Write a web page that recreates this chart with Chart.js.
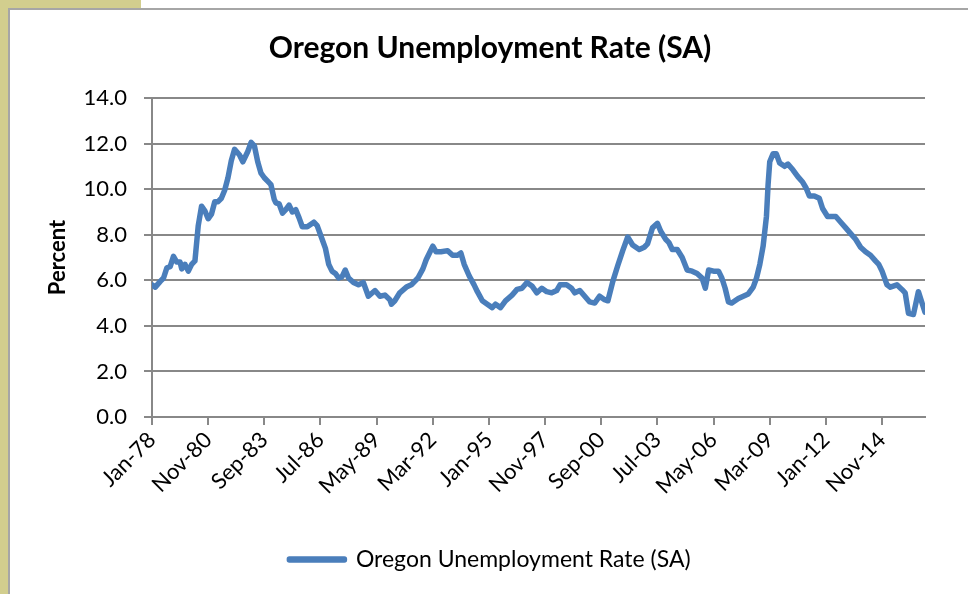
<!DOCTYPE html>
<html>
<head>
<meta charset="utf-8">
<title>Oregon Unemployment Rate (SA)</title>
<script src="https://cdn.jsdelivr.net/npm/chart.js@4.4.1/dist/chart.umd.min.js"></script>
<style>
  html, body { margin: 0; padding: 0; background: #fff; }
  body { width: 968px; height: 594px; position: relative; overflow: hidden; }
  .strip { position: absolute; background: #d2ce8e; }
  #frame { position: absolute; left: 8px; top: 8px; right: 0; bottom: 0;
           border-left: 2px solid #a6a6a6; border-top: 2px solid #a6a6a6; }
  #chartBox { position: absolute; left: 0; top: 0; width: 968px; height: 594px; }
</style>
</head>
<body>
<div class="strip" style="left:0;top:0;width:8px;height:594px"></div>
<div class="strip" style="left:0;top:0;width:141px;height:8px"></div>
<div id="frame"></div>
<div id="chartBox"><canvas id="unemployment"></canvas></div>
<script>
// readings taken off the original chart (month, percent)
const months = [
  '1978-01', '1978-03', '1978-06', '1978-08', '1978-10', '1978-12',
  '1979-02', '1979-04', '1979-06', '1979-07', '1979-09', '1979-11',
  '1980-01', '1980-03', '1980-05', '1980-07', '1980-09', '1980-11',
  '1981-01', '1981-03', '1981-05', '1981-07', '1981-09', '1981-11',
  '1982-01', '1982-03', '1982-06', '1982-08', '1982-11',
  '1983-01', '1983-03', '1983-05', '1983-07', '1983-09', '1983-11',
  '1984-01', '1984-03', '1984-04', '1984-06', '1984-08', '1984-10', '1984-12',
  '1985-02', '1985-04', '1985-06', '1985-08', '1985-11',
  '1986-03', '1986-05', '1986-08', '1986-10', '1986-12',
  '1987-02', '1987-04', '1987-06', '1987-08', '1987-10', '1987-12',
  '1988-03', '1988-06', '1988-09', '1988-12',
  '1989-04', '1989-07', '1989-10',
  '1990-01', '1990-02', '1990-04', '1990-07', '1990-11',
  '1991-02', '1991-06', '1991-09', '1991-11',
  '1992-01', '1992-03', '1992-05', '1992-08', '1992-12',
  '1993-03', '1993-06', '1993-08', '1993-10',
  '1994-01', '1994-04', '1994-06', '1994-09', '1994-12',
  '1995-03', '1995-05', '1995-08', '1995-11',
  '1996-03', '1996-06', '1996-09', '1996-12',
  '1997-03', '1997-06', '1997-09', '1997-12',
  '1998-03', '1998-06', '1998-08', '1998-12',
  '1999-03', '1999-05', '1999-08', '1999-11',
  '2000-02', '2000-05', '2000-08', '2000-11',
  '2001-01', '2001-04', '2001-07', '2001-10',
  '2002-01', '2002-04', '2002-08', '2002-11',
  '2003-01', '2003-04', '2003-07', '2003-09', '2003-12',
  '2004-02', '2004-04', '2004-07', '2004-10',
  '2005-01', '2005-04', '2005-07', '2005-10', '2005-12',
  '2006-02', '2006-05', '2006-08', '2006-10', '2006-12',
  '2007-02', '2007-04', '2007-08', '2007-11',
  '2008-02', '2008-05', '2008-07', '2008-09', '2008-11',
  '2009-01', '2009-02', '2009-03', '2009-05', '2009-07', '2009-09', '2009-12',
  '2010-02', '2010-05', '2010-08', '2010-11',
  '2011-01', '2011-03', '2011-06', '2011-09', '2011-11',
  '2012-02', '2012-07', '2012-10',
  '2013-01', '2013-04', '2013-07', '2013-10',
  '2014-01', '2014-04', '2014-07', '2014-09', '2014-11',
  '2015-02', '2015-04', '2015-08', '2015-11',
  '2016-01', '2016-03', '2016-06', '2016-09',
  '2017-01'
];
const rate = [
  5.8, 5.7, 5.95, 6.1, 6.55, 6.6,
  7.05, 6.8, 6.8, 6.5, 6.7, 6.4,
  6.7, 6.85, 8.4, 9.25, 9.05, 8.7,
  8.9, 9.45, 9.45, 9.6, 9.95, 10.5,
  11.25, 11.75, 11.5, 11.2, 11.65,
  12.05, 11.9, 11.2, 10.7, 10.5, 10.35,
  10.2, 9.55, 9.4, 9.35, 8.95, 9.1, 9.3,
  9.0, 9.1, 8.75, 8.35, 8.35,
  8.55, 8.4, 7.8, 7.4, 6.7,
  6.4, 6.3, 6.1, 6.15, 6.45, 6.1,
  5.9, 5.8, 5.9, 5.3,
  5.55, 5.3, 5.35,
  5.15, 4.95, 5.1, 5.45, 5.7,
  5.8, 6.1, 6.5, 6.9,
  7.2, 7.5, 7.25, 7.25, 7.3,
  7.1, 7.1, 7.2, 6.7,
  6.2, 5.8, 5.5, 5.1, 4.95,
  4.8, 4.95, 4.8, 5.1,
  5.35, 5.6, 5.65, 5.9,
  5.75, 5.45, 5.65, 5.5,
  5.45, 5.55, 5.8, 5.8,
  5.65, 5.45, 5.55, 5.3,
  5.05, 5.0, 5.3, 5.15,
  5.1, 5.95, 6.65, 7.3,
  7.9, 7.55, 7.35, 7.45,
  7.6, 8.3, 8.5, 8.15, 7.8,
  7.65, 7.35, 7.35, 7.0,
  6.45, 6.4, 6.3, 6.1, 5.65,
  6.45, 6.4, 6.4, 6.1, 5.65,
  5.05, 5.0, 5.2, 5.3,
  5.4, 5.7, 6.1, 6.7, 7.5,
  8.8, 10.2, 11.2, 11.55, 11.55, 11.15, 11.0,
  11.1, 10.85, 10.55, 10.3,
  10.05, 9.7, 9.7, 9.6, 9.15,
  8.8, 8.8, 8.55,
  8.3, 8.05, 7.8, 7.45,
  7.25, 7.1, 6.85, 6.7, 6.4,
  5.8, 5.7, 5.8, 5.6,
  5.45, 4.55, 4.5, 5.5,
  4.6
];
const tickLabels = ['Jan-78', 'Nov-80', 'Sep-83', 'Jul-86', 'May-89', 'Mar-92', 'Jan-95',
                    'Nov-97', 'Sep-00', 'Jul-03', 'May-06', 'Mar-09', 'Jan-12', 'Nov-14'];
const yTicks = [0, 2, 4, 6, 8, 10, 12, 14];

const TICK_STEP = 34;   // months between category labels
const LAST_MONTH = 468; // Jan-17, counted from Jan-78

const FONT = 'Lato, "Open Sans", sans-serif';
const GRID = '#888888';

// months since Jan 1978
function monthIndex(s) {
  const [y, m] = s.split('-').map(Number);
  return (y - 1978) * 12 + (m - 1);
}

const points = months.map((m, i) => ({ x: monthIndex(m), y: rate[i] }));

const chart = new Chart(document.getElementById('unemployment'), {
  type: 'line',
  data: {
    datasets: [{
      label: 'Oregon Unemployment Rate (SA)',
      data: points,
      borderColor: '#4a7ebb',
      backgroundColor: '#4a7ebb',
      borderWidth: 5.5,
      borderJoinStyle: 'round',
      borderCapStyle: 'round',
      pointRadius: 0,
      tension: 0
    }]
  },
  options: {
    responsive: true,
    maintainAspectRatio: false,
    animation: false,
    layout: { padding: { left: 55, right: 43, top: 0, bottom: 13 } },
    plugins: {
      title: {
        display: true,
        text: 'Oregon Unemployment Rate (SA)',
        color: '#000',
        font: { family: FONT, size: 30, weight: 'bold' },
        padding: { top: 30, bottom: 32 }
      },
      legend: {
        position: 'bottom',
        labels: {
          color: '#000',
          boxWidth: 55,
          boxHeight: 1,
          padding: 10,
          font: { family: FONT, size: 23 }
        }
      },
      tooltip: { enabled: false }
    },
    scales: {
      x: {
        type: 'linear',
        min: 0,
        max: LAST_MONTH,
        afterBuildTicks: s => { s.ticks = tickLabels.map((t, i) => ({ value: i * TICK_STEP })); },
        afterFit: s => { s.height = 121; },
        ticks: {
          autoSkip: false,
          minRotation: 45,
          maxRotation: 45,
          padding: 2,
          color: '#000',
          font: { family: FONT, size: 22 },
          callback: v => tickLabels[Math.round(v / TICK_STEP)]
        },
        grid: { drawOnChartArea: false, drawTicks: true, tickLength: 8, color: GRID, lineWidth: 2 },
        border: { color: GRID, width: 2 }
      },
      y: {
        min: 0,
        max: 14,
        afterBuildTicks: s => { s.ticks = yTicks.map(v => ({ value: v })); },
        afterFit: s => { s.width = 97; },
        ticks: {
          padding: 17,
          color: '#000',
          font: { family: FONT, size: 22 },
          callback: v => v.toFixed(1)
        },
        grid: { color: GRID, lineWidth: 2, tickLength: 8 },
        border: { color: GRID, width: 2 },
        title: {
          display: true,
          text: 'Percent',
          color: '#000',
          font: { family: FONT, size: 22, weight: 'bold' },
          padding: { top: -10, bottom: 0 }
        }
      }
    }
  }
});
</script>
</body>
</html>
